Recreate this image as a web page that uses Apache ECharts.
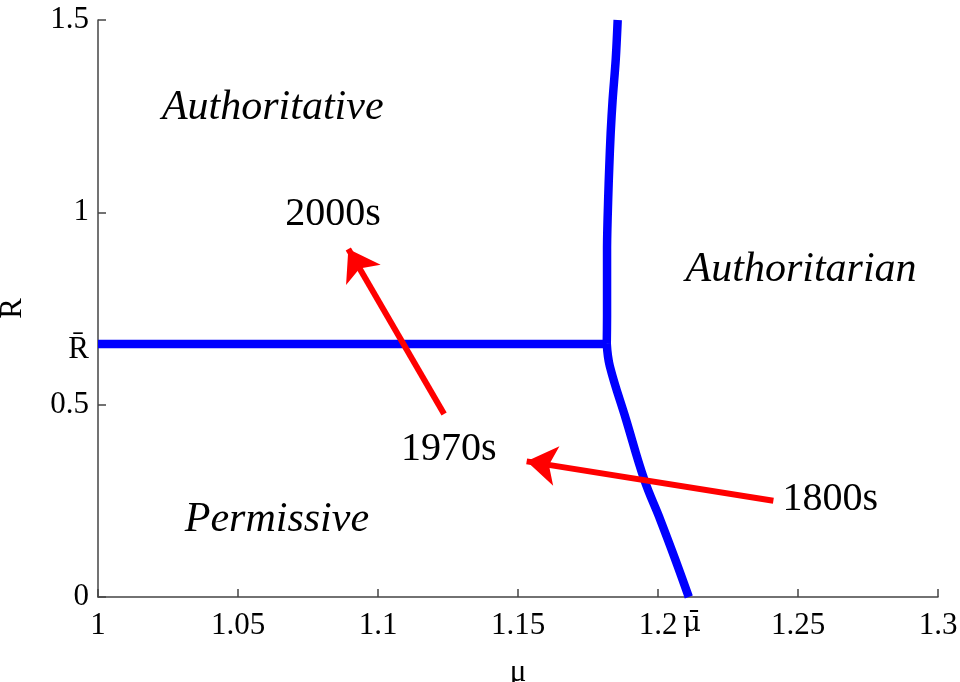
<!DOCTYPE html>
<html>
<head>
<meta charset="utf-8">
<script src="https://cdn.jsdelivr.net/npm/echarts@6/dist/echarts.min.js"></script>
<style>html,body{margin:0;padding:0;background:#fff}#c{width:960px;height:682px}</style>
</head>
<body>
<div id="c"></div>
<script>
// ---- data ----
const muBar = 1.211;
const RBar = 0.658;
const xTickValues = [1, 1.05, 1.1, 1.15, 1.2, 1.25, 1.3];
const yTickValues = [0, 0.5, 1, 1.5];
const xLabelValues = [1, 1.05, 1.1, 1.15, 1.2, muBar, 1.25, 1.3];
const yLabelValues = [0, 0.5, RBar, 1, 1.5];
// boundary: horizontal R-bar line
const horizLine = [[1, RBar], [1.1817, RBar]];
// boundary: upper branch (Authoritative / Authoritarian)
const upperBranch = [[1.1856, 1.5], [1.1849, 1.397], [1.1838, 1.293], [1.1831, 1.207], [1.1826, 1.119], [1.1822, 1.033], [1.1818, 0.903], [1.1818, 0.729], [1.1817, RBar]];
// boundary: lower branch (Permissive / Authoritarian)
const lowerBranch = [[1.1817, RBar], [1.1828, 0.6], [1.1886, 0.461], [1.1951, 0.305], [1.2008, 0.201], [1.2062, 0.097], [muBar, 0]];
// arrows (start -> end)
const arrow1800to1970 = [[1.2412, 0.2504], [1.1531, 0.3526]];
const arrow1970to2000 = [[1.1236, 0.4758], [1.0894, 0.9048]];
// region labels
const regionNames = ['Authoritative', 'Authoritarian', 'Permissive'];
const regionPos = [[1.0624, 1.272], [1.2511, 0.851], [1.0639, 0.201]];
// period labels
const periodNames = ['2000s', '1970s', '1800s'];
const periodPos = [[1.0839, 0.994], [1.1253, 0.383], [1.2615, 0.253]];

const FONT = 'Liberation Serif';
const chart = echarts.init(document.getElementById('c'));

const textItems = [];
regionNames.forEach((n, i) => textItems.push({
  name: n, value: regionPos[i],
  label: { fontStyle: 'italic', fontSize: 42, color: '#000', fontFamily: FONT }
}));
periodNames.forEach((n, i) => textItems.push({
  name: n, value: periodPos[i],
  label: { fontStyle: 'normal', fontSize: 40, color: '#000', fontFamily: FONT }
}));

chart.setOption({
  animation: false,
  backgroundColor: '#fff',
  grid: { left: 98, right: 22, top: 20, bottom: 85, containLabel: false, outerBoundsMode: 'none' },
  xAxis: {
    type: 'value', min: 1, max: 1.3,
    name: 'μ', nameLocation: 'middle', nameGap: 60,
    nameTextStyle: { fontFamily: FONT, fontSize: 31, color: '#000' },
    axisLine: { show: true, onZero: false, lineStyle: { color: '#444', width: 1.5 } },
    axisTick: { show: true, inside: true, length: 8, customValues: xTickValues, lineStyle: { color: '#444', width: 1.5 } },
    axisLabel: {
      customValues: xLabelValues, margin: 13,
      fontFamily: FONT, fontSize: 31, color: '#000',
      formatter: v => (Math.abs(v - muBar) < 1e-9 ? '{m|μ̄}' : String(v)),
      rich: { m: { fontFamily: 'DejaVu Serif', fontSize: 28, color: '#000', padding: [0, 0, 0, 6] } }
    },
    splitLine: { show: false }
  },
  yAxis: {
    type: 'value', min: 0, max: 1.5,
    name: 'R', nameLocation: 'middle', nameGap: 70, nameRotate: 90,
    nameTextStyle: { fontFamily: FONT, fontSize: 31, color: '#000' },
    axisLine: { show: true, onZero: false, lineStyle: { color: '#444', width: 1.5 } },
    axisTick: { show: true, inside: true, length: 8, customValues: yTickValues, lineStyle: { color: '#444', width: 1.5 } },
    axisLabel: {
      customValues: yLabelValues, margin: 9,
      fontFamily: FONT, fontSize: 31, color: '#000',
      formatter: v => (Math.abs(v - RBar) < 1e-9 ? '{r|R̄}' : String(v)),
      rich: { r: { fontFamily: FONT, fontSize: 31, color: '#000', padding: [12, 0, 0, 0] } }
    },
    splitLine: { show: false }
  },
  series: [
    { type: 'line', data: horizLine, showSymbol: false, symbol: 'none', lineStyle: { color: '#0000ff', width: 8.5, cap: 'butt' }, z: 3 },
    { type: 'line', data: upperBranch, showSymbol: false, symbol: 'none', smooth: 0.3, lineStyle: { color: '#0000ff', width: 8.5 }, z: 3 },
    { type: 'line', data: lowerBranch, showSymbol: false, symbol: 'none', smooth: 0.4, lineStyle: { color: '#0000ff', width: 8.5 }, z: 3 },
    {
      type: 'lines', coordinateSystem: 'cartesian2d', z: 4,
      symbol: ['none', 'arrow'], symbolSize: 30,
      lineStyle: { color: '#ff0000', width: 6, opacity: 1, curveness: 0 },
      data: [{ coords: arrow1800to1970 }, { coords: arrow1970to2000 }]
    },
    {
      type: 'scatter', symbolSize: 0, z: 5,
      itemStyle: { opacity: 1 },
      label: { show: true, position: 'inside', formatter: p => p.name, color: '#000', fontFamily: FONT },
      data: textItems
    }
  ]
});
</script>
</body>
</html>
